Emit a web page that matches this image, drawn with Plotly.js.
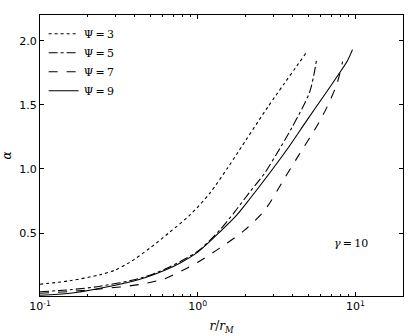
<!DOCTYPE html>
<html>
<head>
<meta charset="utf-8">
<script src="https://cdn.plot.ly/plotly-3.0.1.min.js"></script>
<style>
  html, body { margin: 0; padding: 0; background: #fff; }
  #plot { width: 415px; height: 336px; }
</style>
</head>
<body>
<div id="plot"></div>
<script>
// r / r_M values and alpha for each Psi curve
const rPsi3 = [0.1, 0.155, 0.24, 0.298, 0.371, 0.497, 0.665, 0.89, 1.19, 1.55, 1.82, 2.77, 4.9];
const aPsi3 = [0.102, 0.129, 0.176, 0.211, 0.273, 0.383, 0.508, 0.64, 0.81, 1.01, 1.14, 1.48, 1.91];

const rPsi5 = [0.1, 0.155, 0.24, 0.43, 0.618, 1.0, 1.377, 1.71, 2.135, 2.66, 3.16, 3.94, 5.12, 5.66];
const aPsi5 = [0.043, 0.059, 0.086, 0.148, 0.219, 0.359, 0.523, 0.664, 0.82, 0.969, 1.117, 1.32, 1.60, 1.85];

const rPsi7 = [0.1, 0.155, 0.24, 0.43, 0.618, 0.804, 1.0, 1.377, 1.98, 2.66, 3.56, 4.30, 6.1, 7.59, 8.28];
const aPsi7 = [0.031, 0.045, 0.065, 0.10, 0.145, 0.211, 0.273, 0.383, 0.523, 0.68, 0.93, 1.094, 1.40, 1.656, 1.836];

const rPsi9 = [0.1, 0.155, 0.24, 0.43, 0.618, 0.769, 1.0, 1.377, 1.766, 2.135, 3.66, 4.89, 6.37, 7.93, 8.89, 9.57];
const aPsi9 = [0.016, 0.031, 0.070, 0.141, 0.211, 0.266, 0.352, 0.508, 0.64, 0.766, 1.148, 1.375, 1.578, 1.75, 1.844, 1.93];

const seriesNames = ['Ψ\u2009=\u20093', 'Ψ\u2009=\u20095', 'Ψ\u2009=\u20097', 'Ψ\u2009=\u20099'];
const seriesDash = ['dot', 'dashdot', 'dash', 'solid'];

const xMajorTicks = [0.1, 1, 10];
const xMajorLabels = ['10<sup>-1</sup>', '10<sup>0</sup>', '10<sup>1</sup>'];
const xMinorTicks = [0.2, 0.3, 0.4, 0.5, 0.6, 0.7, 0.8, 0.9, 2, 3, 4, 5, 6, 7, 8, 9, 20];
const yTicks = [0.5, 1.0, 1.5, 2.0];
const yLabels = ['0.5', '1.0', '1.5', '2.0'];

const gammaLabel = '<i>γ</i>\u2009=\u200910';
const gammaX = 9.4, gammaY = 0.42;

const xs = [rPsi3, rPsi5, rPsi7, rPsi9];
const ys = [aPsi3, aPsi5, aPsi7, aPsi9];

const traces = xs.map((x, i) => ({
    x: x,
    y: ys[i],
    type: 'scatter',
    mode: 'lines',
    name: seriesNames[i],
    line: { color: 'black', width: 1.1, dash: seriesDash[i], shape: 'spline', smoothing: 0.8 }
}));

const axisCommon = {
    showline: true,
    linecolor: 'black',
    linewidth: 1,
    mirror: 'allticks',
    ticks: 'inside',
    ticklen: 4,
    tickcolor: 'black',
    showgrid: false,
    zeroline: false,
    tickfont: { family: 'DejaVu Sans', size: 11, color: 'black' }
};

const layout = {
    width: 415,
    height: 336,
    margin: { l: 40, r: 12, t: 15, b: 40 },
    paper_bgcolor: 'white',
    plot_bgcolor: 'white',
    showlegend: true,
    legend: {
        x: 0.01,
        y: 0.985,
        xanchor: 'left',
        yanchor: 'top',
        bgcolor: 'rgba(0,0,0,0)',
        font: { family: 'DejaVu Serif', size: 11, color: 'black' },
        itemwidth: 30,
        tracegroupgap: 0
    },
    xaxis: Object.assign({}, axisCommon, {
        type: 'log',
        range: [Math.log10(0.1), Math.log10(20)],
        tickmode: 'array',
        tickvals: xMajorTicks,
        ticktext: xMajorLabels,
        minor: { tickmode: 'array', tickvals: xMinorTicks, ticks: 'inside', ticklen: 2, tickcolor: 'black' },
        title: { text: '<i>r</i>/<i>r</i><sub><i>M</i></sub>', font: { family: 'DejaVu Serif', size: 12, color: 'black' }, standoff: 9 }
    }),
    yaxis: Object.assign({}, axisCommon, {
        range: [0.01, 2.2],
        tickmode: 'array',
        tickvals: yTicks,
        ticktext: yLabels,
        title: { text: '<i>α</i>', font: { family: 'DejaVu Serif', size: 12, color: 'black' }, standoff: 10 }
    }),
    annotations: [{
        x: Math.log10(gammaX),
        y: gammaY,
        xref: 'x',
        yref: 'y',
        text: gammaLabel,
        showarrow: false,
        font: { family: 'DejaVu Serif', size: 11, color: 'black' }
    }]
};

Plotly.newPlot('plot', traces, layout, { displayModeBar: false, staticPlot: true });
</script>
</body>
</html>
